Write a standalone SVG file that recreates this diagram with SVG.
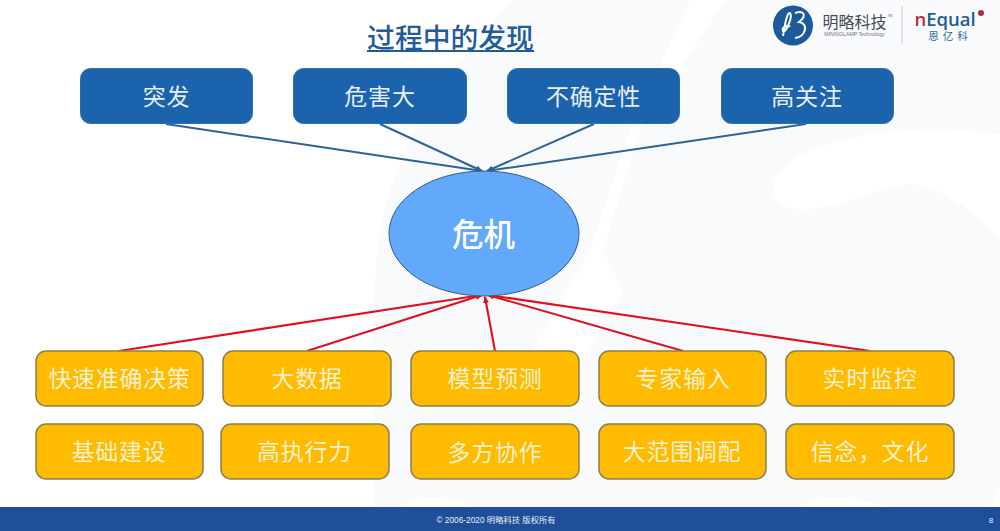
<svg xmlns="http://www.w3.org/2000/svg" width="1000" height="531" viewBox="0 0 1000 531">
<style>
text{font-family:"Liberation Sans","Noto Sans CJK SC",sans-serif;text-anchor:middle}
.b{fill:#1c63ad;stroke:#2f6fa8;stroke-width:1}
.y{fill:#ffbb00;stroke:#8a7f50;stroke-width:1.5}
.t{fill:#fbf0cd;font-size:23px;letter-spacing:.7px}
.tb{fill:#e6eef6;font-size:23px;letter-spacing:.8px}
.cb{stroke:#2d6399;stroke-width:2;fill:none;marker-end:url(#ab)}
.cr{stroke:#e0101f;stroke-width:2.100;fill:none;marker-end:url(#ar)}
</style>
<defs>
<marker id="ab" markerWidth="7" markerHeight="6" refX="6" refY="3" orient="auto" markerUnits="userSpaceOnUse"><path d="M0 0L7 3L0 6z" fill="#2d6399"/></marker>
<marker id="ar" markerWidth="7" markerHeight="6" refX="6" refY="3" orient="auto" markerUnits="userSpaceOnUse"><path d="M0 0L7 3L0 6z" fill="#e0101f"/></marker>
</defs>
<rect width="1000" height="531" fill="#ffffff"/>
<g id="background">
<path d="M512 0H1000V507H375V290C376 220 390 130 512 0Z" fill="#f9fafc"/>
<g fill="#ffffff">
<path d="M690 0H725L640 130L603 250L623 290L560 400L533 350L590 250L630 130Z"/>
<path d="M833 143C880 128 950 125 1000 135V240C970 205 930 180 900 185C860 195 820 215 790 208C765 200 760 165 833 143Z"/>
<path d="M800 507C815 495 850 495 885 507Z"/>
<path d="M400 507C420 495 450 495 470 507Z"/>
<path d="M990 507L1000 485V507Z"/>
</g>
</g>
<g id="title"><text x="450.500" y="48" font-size="27.800" font-weight="500" fill="#1f5c99">过程中的发现</text><rect x="367" y="50" width="167" height="2" fill="#1f5c99"/></g>
<g id="logo">
<circle cx="793" cy="25.500" r="20" fill="#1d5a9c"/>
<path d="M783 36C785 24 787 12 790 13C793 16 786 34 783 31C781 27 788 24 790 27M795 13C803 10 808 15 799 22C809 23 806 37 795 38" fill="none" stroke="#fff" stroke-width="2"/>
<text x="854.500" y="28" font-size="16" fill="#444c56">明略科技</text>
<text x="854.500" y="36" font-size="5.200" fill="#6b7480">MININGLAMP Technology</text>
<text x="890" y="17" font-size="3.500" fill="#6b7480">TM</text>
<rect x="901.500" y="6" width="1.200" height="38" fill="#d0d4d9"/>
<text x="945" y="26" font-size="18.500" font-weight="600" fill="#1f5c99" style="font-family:'Open Sans',sans-serif"><tspan fill="#b0303a">n</tspan>Equal</text>
<circle cx="981" cy="13" r="3" fill="#b0303a"/>
<text x="950" y="40" font-size="10.500" fill="#2f6a9e" letter-spacing="4">恩亿科</text>
</g>
<g id="connectors">
<path class="cb" d="M166 124L482 171"/><path class="cb" d="M380 124L482 171"/><path class="cb" d="M594 124L487 171"/><path class="cb" d="M806 124L487 171"/>
<path class="cr" d="M119 351L482 295"/><path class="cr" d="M307 351L482 295"/><path class="cr" d="M495 351L485 297"/><path class="cr" d="M683 351L488 295"/><path class="cr" d="M870 351L488 295"/>
</g>
<g id="n-tufa"><rect class="b" x="80.500" y="68.500" width="172" height="55" rx="10"/><text class="tb" x="166.500" y="105">突发</text></g>
<g id="n-weihai"><rect class="b" x="293.500" y="68.500" width="173" height="55" rx="10"/><text class="tb" x="380" y="105">危害大</text></g>
<g id="n-buqueding"><rect class="b" x="507.500" y="68.500" width="172" height="55" rx="10"/><text class="tb" x="593.500" y="105">不确定性</text></g>
<g id="n-gaoguanzhu"><rect class="b" x="721.500" y="68.500" width="172" height="55" rx="10"/><text class="tb" x="807" y="105">高关注</text></g>
<g id="n-weiji"><ellipse cx="484" cy="233.500" rx="95" ry="62.500" fill="#62a8fb" stroke="#2f5f8e" stroke-width="1"/><text x="483.500" y="246" font-size="31.500" font-weight="500" fill="#fff">危机</text></g>
<g id="n1"><rect class="y" x="36" y="351" width="167" height="55" rx="10"/><text class="t" x="119.500" y="387">快速准确决策</text></g>
<g id="n2"><rect class="y" x="223" y="351" width="168" height="55" rx="10"/><text class="t" x="307" y="387">大数据</text></g>
<g id="n3"><rect class="y" x="411" y="351" width="168" height="55" rx="10"/><text class="t" x="495" y="387">模型预测</text></g>
<g id="n4"><rect class="y" x="599" y="351" width="167" height="55" rx="10"/><text class="t" x="683" y="387">专家输入</text></g>
<g id="n5"><rect class="y" x="786" y="351" width="168" height="55" rx="10"/><text class="t" x="870" y="387">实时监控</text></g>
<g id="n6"><rect class="y" x="36" y="424" width="167" height="55" rx="10"/><text class="t" x="119" y="460">基础建设</text></g>
<g id="n7"><rect class="y" x="221" y="424" width="168" height="55" rx="10"/><text class="t" x="304.500" y="460">高执行力</text></g>
<g id="n8"><rect class="y" x="411" y="424" width="168" height="55" rx="10"/><text class="t" x="495" y="461">多方协作</text></g>
<g id="n9"><rect class="y" x="599" y="424" width="167" height="55" rx="10"/><text class="t" x="682" y="460">大范围调配</text></g>
<g id="n10"><rect class="y" x="786" y="424" width="168" height="55" rx="10"/><text class="t" x="870" y="460">信念，文化</text></g>
<g id="footer"><rect y="507" width="1000" height="24" fill="#1f4f99"/><text x="496" y="523" font-size="8.300" fill="#e8eef6">© 2006-2020 明略科技 版权所有</text><text x="991" y="523" font-size="8" fill="#e8eef6">8</text></g>
</svg>
